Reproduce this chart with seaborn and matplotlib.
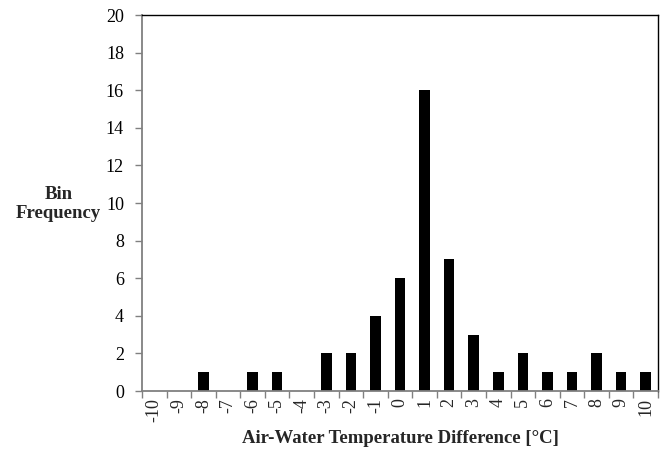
import matplotlib
matplotlib.use("Agg")
import matplotlib.pyplot as plt
import seaborn as sns
import pandas as pd
import numpy as np

categories = [str(v) for v in range(-10, 11)]
counts = [0, 0, 1, 0, 1, 1, 0, 2, 2, 4, 6, 16, 7, 3, 1, 2, 1, 1, 2, 1, 1]

sns.set_theme(style="white")
plt.rcParams['font.family'] = ['Liberation Serif', 'DejaVu Serif']

df = pd.DataFrame({"bin": categories, "freq": counts})

fig = plt.figure(figsize=(6.67, 4.54), dpi=100)
ax = fig.add_axes([142/667, 1-391/454, (658-142)/667, (391-15)/454])
sns.barplot(data=df, x="bin", y="freq", order=categories, color="black",
            width=0.43, ax=ax, saturation=1, edgecolor="black", linewidth=0)

ax.set_ylim(0, 20)
ax.set_xlim(-0.5, len(categories) - 0.5)
ax.set_yticks(range(0, 21, 2))
ax.tick_params(axis='y', labelsize=13, length=5, width=1, color='#808080',
               direction='out', left=True, pad=8, labelcolor='black')
ax.tick_params(axis='x', which='major', length=0, labelsize=13, rotation=90, pad=5)
ax.set_xticks(np.arange(-0.5, len(categories), 1.0), minor=True)
ax.tick_params(axis='x', which='minor', length=5, width=1, color='#808080',
               direction='out', bottom=True)

for s in ['left', 'bottom']:
    ax.spines[s].set_color('#808080')
    ax.spines[s].set_linewidth(1.3)
for s in ['top', 'right']:
    ax.spines[s].set_color('black')
    ax.spines[s].set_linewidth(1.0)
    ax.spines[s].set_visible(True)

ax.set_xlabel("Air-Water Temperature Difference [°C]", fontsize=13.5,
              fontweight='bold', labelpad=6)
ax.set_ylabel("Bin\nFrequency", fontsize=13.5, fontweight='bold', rotation=0,
              ha='center', va='center')
ax.yaxis.set_label_coords(-0.162, 0.497)

fig.savefig("out.png", dpi=100)
